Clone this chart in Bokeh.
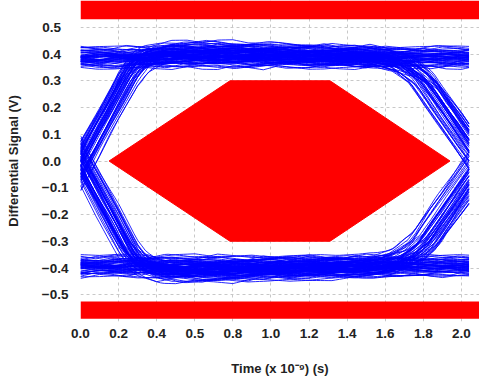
import numpy as np
from bokeh.plotting import figure
from bokeh.models import FixedTicker
from bokeh.embed import file_html
from bokeh.resources import INLINE

# ---- data ----
x_ticks = [0.0, 0.2, 0.4, 0.6, 0.8, 1.0, 1.2, 1.4, 1.6, 1.8, 2.0]
x_tick_labels = ["0.0", "0.2", "0.4", "0.5", "0.8", "1.0", "1.2", "1.4", "1.6", "1.8", "2.0"]
y_ticks = [-0.5, -0.4, -0.3, -0.2, -0.1, 0.0, 0.1, 0.2, 0.3, 0.4, 0.5]
x_title = "Time (x 10\u207b\u2079) (s)"
y_title = "Differential Signal (V)"

# eye mask (hexagon) and limit bars
mask_t = [0.15, 0.785, 1.31, 1.94, 1.31, 0.785]
mask_v = [0.0, 0.30, 0.30, 0.0, -0.30, -0.30]
bar_bottom = [0.53, -0.59]
bar_top = [0.60, -0.525]

# signal model parameters
level_high = 0.385
level_low = -0.395
cross_left = -0.01
cross_right = 2.10
trace_end = 2.04
bit_patterns = ["111", "110", "100", "101", "011", "010", "001", "000"]
level_offsets = [-0.036, -0.029, -0.024, -0.02, -0.016, -0.013, -0.01, -0.007,
                 -0.005, -0.003, -0.001, 0.001, 0.003, 0.005, 0.007, 0.009,
                 0.011, 0.014, 0.017, 0.02, 0.024, 0.028, 0.033, 0.04]
jitter_left = [-0.03, 0.05, -0.01, 0.03, 0.06, -0.025, 0.0, 0.04,
               -0.005, 0.02, 0.055, -0.035, 0.035, 0.01, -0.02, 0.07,
               0.015, -0.015, 0.045, 0.025, -0.04, 0.005, 0.065, -0.01]
jitter_right = [0.03, -0.06, 0.0, 0.05, -0.03, 0.07, -0.015, -0.05,
                0.02, 0.04, -0.08, 0.06, -0.04, 0.01, 0.09, -0.02,
                0.015, -0.035, 0.055, -0.065, 0.005, 0.035, -0.01, 0.08]
# normalized edge (step) shapes
edge_left_dt = [-0.45, -0.35, -0.30, -0.25, -0.15, 0.0, 0.15, 0.25, 0.30, 0.35, 0.45]
edge_left_s = [0.0, 0.01, 0.03, 0.08, 0.25, 0.5, 0.75, 0.92, 0.97, 0.99, 1.0]
edge_right_dt = [-0.6, -0.5, -0.4, -0.3, -0.2, -0.1, 0.0, 0.1, 0.2, 0.3, 0.4, 0.5, 0.6]
edge_right_s = [0.0, 0.01, 0.04, 0.11, 0.24, 0.37, 0.5, 0.63, 0.76, 0.89, 0.96, 0.99, 1.0]
# overshoot after an edge
over_dt = [0.0, 0.25, 0.45, 0.7, 1.0, 1.4, 2.0]
over_v = [0.0, 0.0, 0.02, 0.022, 0.015, 0.006, 0.0]
# small ripple
ripple = [0.005, -0.004, 0.007, -0.006, 0.002, 0.008, -0.007, 0.001, -0.005, 0.006,
          -0.002, 0.004, -0.008, 0.0, 0.006, -0.001, -0.006, 0.007, 0.003, -0.004,
          0.003, -0.007, 0.001, 0.005]

# ---- build traces ----
t = np.arange(0.0, trace_end + 1e-9, 0.02)
swing = level_high - level_low
xs, ys = [], []
n_var = len(level_offsets)
for pi, pat in enumerate(bit_patterns):
    L = [level_high if b == "1" else level_low for b in pat]
    for k in range(n_var):
        t0 = cross_left + jitter_left[k]
        t1 = cross_right + jitter_right[(k + pi * 5) % n_var]
        v = (L[0] + (L[1] - L[0]) * np.interp(t - t0, edge_left_dt, edge_left_s)
             + (L[2] - L[1]) * np.interp(t - t1, edge_right_dt, edge_right_s))
        v = v + (L[1] - L[0]) / swing * np.interp(t - t0, over_dt, over_v, left=0.0, right=0.0)
        v = v + level_offsets[(k * 5 + pi * 7) % n_var]
        step = 0.08 + 0.01 * (k % 4)
        knots = np.arange(0.0, trace_end + 0.3, step)
        rip = [ripple[(j * 5 + k * 7 + pi * 3) % len(ripple)] for j in range(len(knots))]
        v = v + np.interp(t, knots, rip)
        xs.append(list(t))
        ys.append(list(v))

x_max = 2.095
p = figure(width=479, height=378, x_range=(0, x_max), y_range=(-0.6, 0.6),
           output_backend="svg", toolbar_location=None,
           min_border_left=80, min_border_right=0, min_border_top=0, min_border_bottom=56)
p.outline_line_color = None
p.background_fill_color = "white"

for g in (p.xgrid, p.ygrid):
    g.grid_line_color = "#c8c8c8"
    g.grid_line_dash = "3 3"
    g.grid_line_width = 1
p.xgrid.ticker = FixedTicker(ticks=x_ticks)
p.ygrid.ticker = FixedTicker(ticks=y_ticks)

p.multi_line(xs, ys, line_color="#0000ff", line_width=1.0, line_alpha=0.85)
p.patch(mask_t, mask_v, fill_color="#ff0000", line_color="#ff0000")
p.quad(left=[0, 0], right=[x_max, x_max], bottom=bar_bottom, top=bar_top,
       fill_color="#ff0000", line_color=None)

font = "Liberation Sans"
for ax in (p.xaxis[0], p.yaxis[0]):
    ax.axis_line_color = None
    ax.major_tick_line_color = None
    ax.minor_tick_line_color = None
    ax.major_tick_out = 0
    ax.major_tick_in = 0
    ax.minor_tick_out = 0
    ax.major_label_text_font = font
    ax.major_label_text_font_style = "bold"
    ax.major_label_text_font_size = "13.5px"
    ax.major_label_text_color = "#222222"
    ax.axis_label_text_font = font
    ax.axis_label_text_font_style = "bold"
    ax.axis_label_text_font_size = "13px"
    ax.axis_label_text_color = "#222222"

p.xaxis.ticker = FixedTicker(ticks=x_ticks)
p.xaxis.major_label_overrides = {tv: lab for tv, lab in zip(x_ticks, x_tick_labels)}
p.xaxis.major_label_standoff = 7
p.xaxis.axis_label = x_title
p.xaxis.axis_label_standoff = 20

p.yaxis.ticker = FixedTicker(ticks=y_ticks)
ylabs = {}
for tv in y_ticks:
    s = "%.1f" % abs(tv)
    ylabs[tv] = ("\u2212" + s) if tv < -1e-9 else (s + "\u2007")
p.yaxis.major_label_overrides = ylabs
p.yaxis.major_label_standoff = 12
p.yaxis.axis_label = y_title
p.yaxis.axis_label_standoff = 18

open("out.html", "w").write(file_html(p, INLINE))
